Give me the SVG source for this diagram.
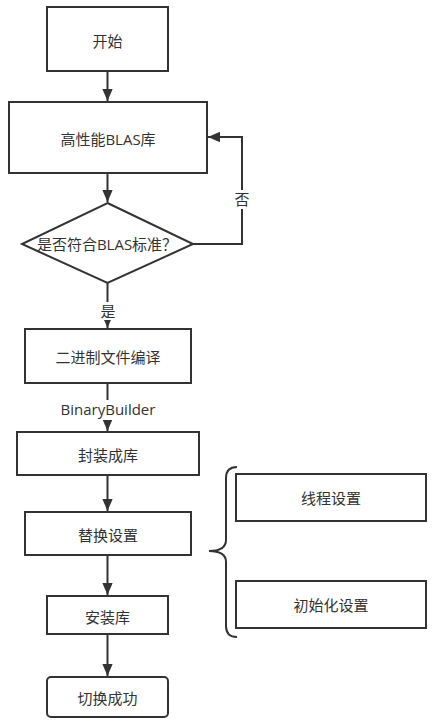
<svg xmlns="http://www.w3.org/2000/svg" width="432" height="722" viewBox="0 0 432 722">
<style>
.n{fill:#fff;stroke:#333;stroke-width:2}
.t{font-family:"Open Sans","Noto Sans CJK SC",sans-serif;font-size:15px;fill:#333;text-anchor:middle;dominant-baseline:central}
.c{fill:none;stroke:#333;stroke-width:2}
.bg{fill:#fff}
</style>
<defs>
<marker id="ah" markerUnits="userSpaceOnUse" markerWidth="12" markerHeight="16" refX="14" refY="6" orient="auto" viewBox="0 0 14 12">
<path d="M0,0 L14,6 L0,12 Z" fill="#333"/>
</marker>
</defs>
<g id="connectors">
<path class="c" d="M107.5,71 V101" marker-end="url(#ah)"/>
<path class="c" d="M107.5,173 V202" marker-end="url(#ah)"/>
<path class="c" d="M193,244 H242 V137 H208" marker-end="url(#ah)"/>
<path class="c" d="M107.5,283 V328" marker-end="url(#ah)"/>
<path class="c" d="M107.5,383 V431" marker-end="url(#ah)"/>
<path class="c" d="M107.5,475 V511" marker-end="url(#ah)"/>
<path class="c" d="M107.5,555 V595" marker-end="url(#ah)"/>
<path class="c" d="M107.5,634 V676" marker-end="url(#ah)"/>
<path class="c" d="M237,467 Q226,467 226,478 V540 Q226,551 209,551 Q226,551 226,562 V626 Q226,637 237,637"/>
<rect class="bg" x="233" y="190" width="18" height="19"/>
<text class="t" x="242" y="199">否</text>
<rect class="bg" x="99" y="302" width="18" height="18"/>
<text class="t" x="108" y="311">是</text>
<rect class="bg" x="58" y="400" width="100" height="20"/>
<text class="t" x="108" y="409">BinaryBuilder</text>
</g>
<g id="start"><rect class="n" x="47" y="7" width="121" height="64"/><text class="t" x="107.5" y="41">开始</text></g>
<g id="blas"><rect class="n" x="9" y="102" width="198" height="71"/><text class="t" x="108" y="139">高性能BLAS库</text></g>
<g id="check"><path class="n" d="M107.5,203 L193,244 L107.5,283 L22,244 Z"/><text class="t" x="107" y="244">是否符合BLAS标准？</text></g>
<g id="compile"><rect class="n" x="25" y="329" width="166" height="54"/><text class="t" x="108" y="357">二进制文件编译</text></g>
<g id="wrap"><rect class="n" x="17" y="432" width="182" height="43"/><text class="t" x="108" y="455">封装成库</text></g>
<g id="replace"><rect class="n" x="25" y="512" width="166" height="43"/><text class="t" x="108" y="535">替换设置</text></g>
<g id="install"><rect class="n" x="47" y="596" width="121" height="38"/><text class="t" x="107.5" y="617">安装库</text></g>
<g id="done"><rect class="n" x="47" y="677" width="121" height="40" rx="4"/><text class="t" x="107.5" y="698">切换成功</text></g>
<g id="thread"><rect class="n" x="236" y="474" width="190" height="47"/><text class="t" x="331" y="498">线程设置</text></g>
<g id="init"><rect class="n" x="236" y="581" width="190" height="47"/><text class="t" x="331" y="605">初始化设置</text></g>
</svg>
